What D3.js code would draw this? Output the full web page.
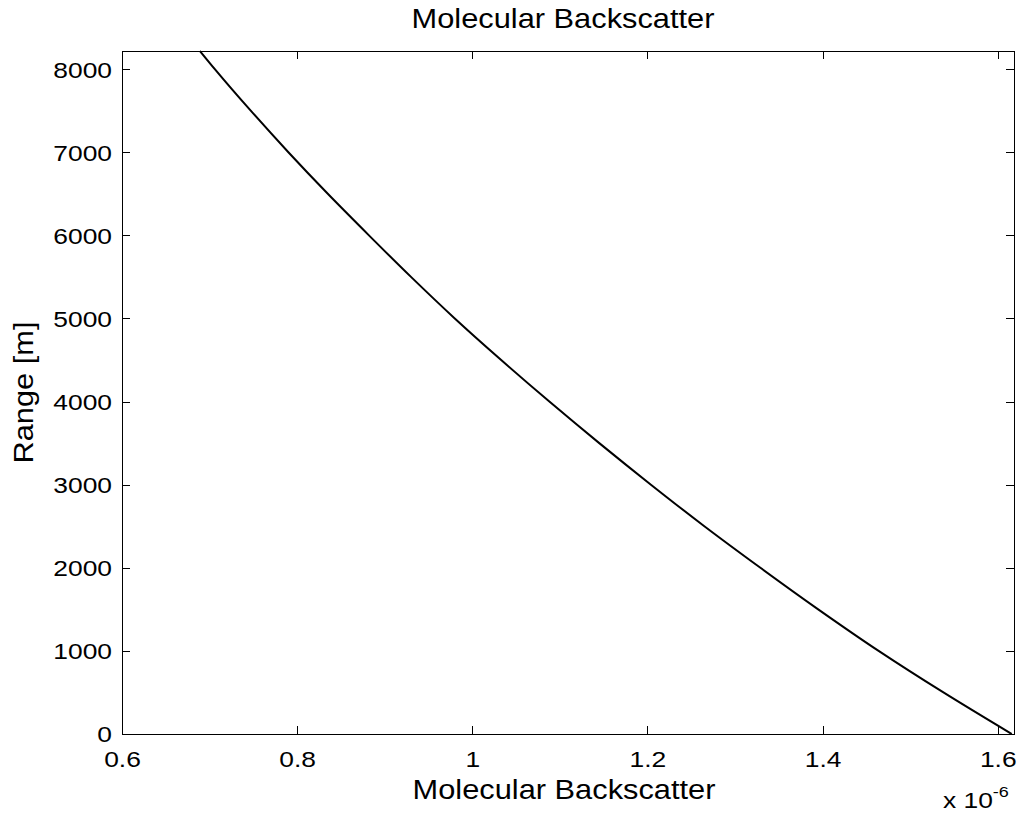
<!DOCTYPE html>
<html>
<head>
<meta charset="utf-8">
<script src="https://cdn.jsdelivr.net/npm/d3@7"></script>
<style>
  html, body { margin: 0; padding: 0; background: #fff; }
  svg { display: block; }
  text { font-family: "Liberation Sans", Arial, Helvetica, sans-serif; fill: #000; }
</style>
</head>
<body>
<svg id="chart" width="1021" height="816"></svg>
<script>
// Molecular backscatter profile: backscatter coefficient (x 1e-6) versus range (m)
const rangeM = [0, 500, 1000, 1500, 2000, 2500, 3000, 3500, 4000, 4500,
                5000, 5500, 6000, 6500, 7000, 7500, 8000, 8218];
const backscatter = [1.616, 1.538, 1.464, 1.395, 1.329, 1.265, 1.204, 1.145, 1.088, 1.033,
                     0.980, 0.930, 0.882, 0.835, 0.790, 0.747, 0.706, 0.689];

const xTicks = [0.6, 0.8, 1.0, 1.2, 1.4, 1.6];
const yTicks = [0, 1000, 2000, 3000, 4000, 5000, 6000, 7000, 8000];
const xDomain = [0.6, 1.6186];
const yDomain = [0, 8218];

const titleText = "Molecular Backscatter";
const xLabelText = "Molecular Backscatter";
const yLabelText = "Range [m]";

const svg = d3.select("#chart");
const plotL = 122, plotR = 1014, plotT = 51, plotB = 734;
const stretch = 1.2;      // tick font is drawn a little wider than Helvetica
const labelStretch = 1.12;
const tickFont = 22, labelFont = 27.5;

const x = d3.scaleLinear().domain(xDomain).range([plotL, plotR]);
const y = d3.scaleLinear().domain(yDomain).range([plotB, plotT]);

// profile line
const line = d3.line()
  .x((d, i) => x(backscatter[i]))
  .y(d => y(d))
  .curve(d3.curveMonotoneY);

svg.append("path")
  .datum(rangeM)
  .attr("d", line)
  .attr("fill", "none")
  .attr("stroke", "#000")
  .attr("stroke-width", 2);

const tickLen = 8;

// bottom axis with labels, ticks pointing inward
const gx = svg.append("g")
  .attr("transform", `translate(0,${plotB})`)
  .call(d3.axisBottom(x).tickValues(xTicks).tickSizeInner(-tickLen).tickSizeOuter(0)
        .tickFormat(d => d3.format("~g")(d)));
gx.select(".domain").remove();
gx.selectAll("line").attr("stroke", "#000").attr("shape-rendering", "crispEdges");
gx.selectAll("text")
  .attr("font-size", tickFont)
  .attr("y", 0).attr("dy", null)
  .attr("transform", `translate(0,33) scale(${stretch},1)`);

// top axis ticks only
const gxt = svg.append("g")
  .attr("transform", `translate(0,${plotT})`)
  .call(d3.axisTop(x).tickValues(xTicks).tickSizeInner(-tickLen).tickSizeOuter(0).tickFormat(""));
gxt.select(".domain").remove();
gxt.selectAll("line").attr("stroke", "#000").attr("shape-rendering", "crispEdges");

// left axis with labels
const gy = svg.append("g")
  .attr("transform", `translate(${plotL},0)`)
  .call(d3.axisLeft(y).tickValues(yTicks).tickSizeInner(-tickLen).tickSizeOuter(0)
        .tickFormat(d3.format("d")));
gy.select(".domain").remove();
gy.selectAll("line").attr("stroke", "#000").attr("shape-rendering", "crispEdges");
gy.selectAll("text")
  .attr("font-size", tickFont)
  .attr("x", 0).attr("dy", "0.36em")
  .attr("transform", `translate(-10,0) scale(${stretch},1)`);

// right axis ticks only
const gyr = svg.append("g")
  .attr("transform", `translate(${plotR},0)`)
  .call(d3.axisRight(y).tickValues(yTicks).tickSizeInner(-tickLen).tickSizeOuter(0).tickFormat(""));
gyr.select(".domain").remove();
gyr.selectAll("line").attr("stroke", "#000").attr("shape-rendering", "crispEdges");

// axes box
svg.append("rect")
  .attr("x", plotL).attr("y", plotT)
  .attr("width", plotR - plotL).attr("height", plotB - plotT)
  .attr("fill", "none").attr("stroke", "#000").attr("stroke-width", 1)
  .attr("shape-rendering", "crispEdges");

// title
svg.append("text")
  .attr("transform", `translate(${(plotL + plotR) / 2 - 5},28) scale(${labelStretch},1)`)
  .attr("text-anchor", "middle")
  .attr("font-size", labelFont)
  .text(titleText);

// x label
svg.append("text")
  .attr("transform", `translate(${(plotL + plotR) / 2 - 4},799) scale(${labelStretch},1)`)
  .attr("text-anchor", "middle")
  .attr("font-size", labelFont)
  .text(xLabelText);

// y label
svg.append("text")
  .attr("transform", `translate(33,${(plotT + plotB) / 2}) rotate(-90) scale(${labelStretch},1)`)
  .attr("text-anchor", "middle")
  .attr("font-size", labelFont)
  .text(yLabelText);

// exponent of the x axis
const expo = svg.append("text")
  .attr("transform", `translate(943,808) scale(${stretch},1)`)
  .attr("font-size", tickFont);
expo.append("tspan").text("x 10");
expo.append("tspan").attr("dy", -11).attr("font-size", 15).text("-6");
</script>
</body>
</html>
